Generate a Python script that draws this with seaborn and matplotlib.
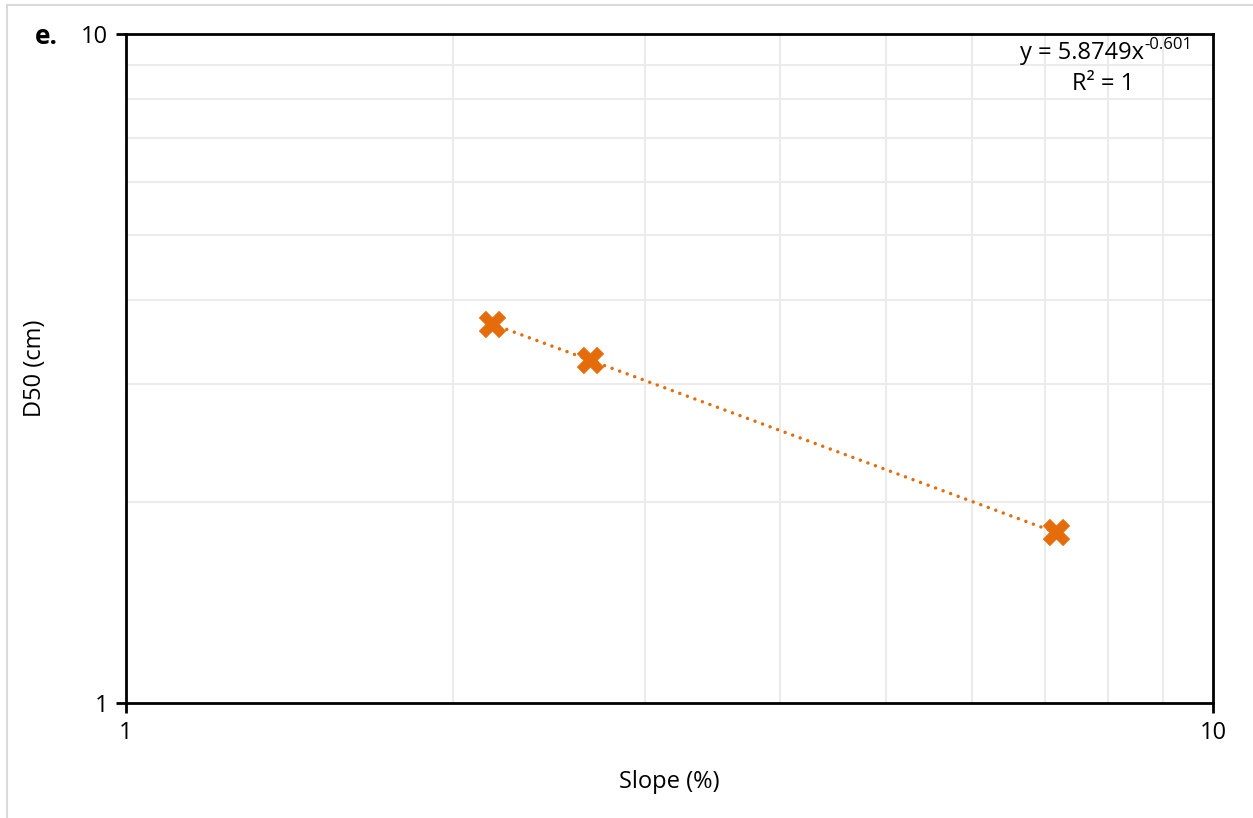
import numpy as np
import pandas as pd
import matplotlib
matplotlib.use("Agg")
import matplotlib.pyplot as plt
from matplotlib.patches import Rectangle
from matplotlib.ticker import LogLocator, NullFormatter, FixedLocator, FixedFormatter
import seaborn as sns

# Observed slope vs. median grain size
slope_pct = [2.17, 2.67, 7.17]
d50_cm = [3.69, 3.26, 1.80]

# Power-law trendline y = a * x^b
coef_a = 5.8749
coef_b = -0.601

x_ticks = [1, 10]
y_ticks = [1, 10]
x_tick_labels = ["1", "10"]
y_tick_labels = ["1", "10"]

orange = "#E46C0A"

sns.set_theme(style="white")
plt.rcParams["font.family"] = ["Open Sans", "DejaVu Sans"]

W, H = 1253, 818
fig = plt.figure(figsize=(W / 100, H / 100), dpi=100)
ax = fig.add_axes([126 / W, 1 - 703 / H, (1213 - 126) / W, (703 - 34) / H])

# Chart-area outline
fig.patches.append(Rectangle((7 / W, -0.1), 1.2, 1 - 5 / H + 0.1, transform=fig.transFigure,
                             fill=False, edgecolor="#D9D9D9", linewidth=1.5, zorder=0))

df = pd.DataFrame({"Slope (%)": slope_pct, "D50 (cm)": d50_cm})

xs = np.linspace(min(slope_pct), max(slope_pct), 200)
ax.plot(xs, coef_a * xs ** coef_b, linestyle=(0, (0.01, 2.3)), color=orange, linewidth=2.5,
        zorder=2, dash_capstyle="round", solid_capstyle="round")

sns.scatterplot(data=df, x="Slope (%)", y="D50 (cm)", ax=ax, marker="X", s=360,
                color=orange, edgecolor=orange, linewidth=0.5, zorder=3)

ax.set_xscale("log")
ax.set_yscale("log")
ax.set_xlim(1, 10)
ax.set_ylim(1, 10)

ax.xaxis.set_major_locator(FixedLocator(x_ticks))
ax.xaxis.set_major_formatter(FixedFormatter(x_tick_labels))
ax.yaxis.set_major_locator(FixedLocator(y_ticks))
ax.yaxis.set_major_formatter(FixedFormatter(y_tick_labels))
ax.xaxis.set_minor_locator(LogLocator(base=10, subs=np.arange(2, 10)))
ax.yaxis.set_minor_locator(LogLocator(base=10, subs=np.arange(2, 10)))
ax.xaxis.set_minor_formatter(NullFormatter())
ax.yaxis.set_minor_formatter(NullFormatter())

ax.grid(True, which="minor", color="#EBEBEB", linewidth=1.5)
ax.grid(False, which="major")
ax.set_axisbelow(True)

for s in ax.spines.values():
    s.set_color("black")
    s.set_linewidth(2)

ax.tick_params(axis="both", which="major", direction="out", length=7, width=2,
               color="black", labelsize=17, labelcolor="black", pad=6,
               bottom=True, left=True)
ax.tick_params(axis="both", which="minor", length=0)

ax.set_xlabel("Slope (%)", fontsize=17, color="black", labelpad=18)
ax.set_ylabel("D50 (cm)", fontsize=17, color="black", labelpad=24)

# Trendline equation with a plain-hyphen superscript exponent
eq_main = fig.text(1020 / W, 1 - 53 / H, f"y = {coef_a}x", ha="left", va="center",
                   fontsize=17, color="black")
ax.annotate(f"{coef_b}", xy=(1.0, 0.5), xycoords=eq_main, ha="left", va="bottom",
            fontsize=12, color="black", annotation_clip=False, zorder=10)
fig.text(1103 / W, 1 - 84 / H, "R² = 1", ha="center", va="center",
         fontsize=17, color="black")

fig.text(35 / W, 1 - 37 / H, "e.", fontsize=19, fontweight="bold", color="black",
         ha="left", va="center")

fig.savefig("out.png", dpi=100, facecolor="white")
